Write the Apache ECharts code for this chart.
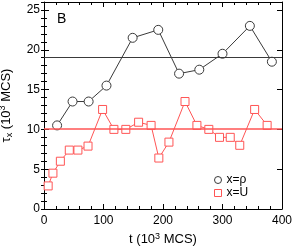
<!DOCTYPE html>
<html>
<head>
<meta charset="utf-8">
<script src="https://cdn.jsdelivr.net/npm/echarts@6/dist/echarts.min.js"></script>
<style>
html,body{margin:0;padding:0;background:#fff;}
#c{width:293px;height:252px;}
</style>
</head>
<body>
<div id="c"></div>
<script>
// x = rho series (black circles)
const tRho = [22, 48, 75, 105, 149, 192, 227, 261, 300, 346, 383];
const tauRho = [10.5, 13.5, 13.5, 15.5, 21.5, 22.5, 17.0, 17.5, 19.5, 23.0, 18.5];
// x = U series (red squares)
const tU = [7, 15, 27.5, 42.5, 57, 74, 98.5, 117.5, 137.5, 159, 180, 193, 210, 237, 257, 277, 295, 313, 329, 354, 375];
const tauU = [2.9, 4.5, 6.0, 7.4, 7.4, 7.9, 12.5, 10.0, 10.0, 10.9, 10.5, 6.4, 8.4, 13.5, 10.5, 10.0, 9.0, 9.0, 8.0, 12.5, 10.5];
// horizontal reference levels
const meanRho = 19.05;
const meanU = 10.1;
const seriesNames = ['x=ρ', 'x=U'];
const panelLabel = 'B';

const BLACK = '#3a3a3a';
const RED = '#ff5555';
const FONT = 'Liberation Sans, Arial, sans-serif';

const chart = echarts.init(document.getElementById('c'), null, {renderer: 'canvas'});

const baseX = {
  type: 'value', min: 0, max: 400, interval: 100,
  splitLine: {show: false},
  axisLine: {show: true, onZero: false, lineStyle: {color: '#000', width: 1}},
  axisTick: {show: true, inside: true, length: 5, lineStyle: {color: '#000'}},
  minorTick: {show: true, splitNumber: 5, length: 3, lineStyle: {color: '#000'}},
};
const baseY = {
  type: 'value', min: 0, max: 26, interval: 5,
  splitLine: {show: false},
  axisLine: {show: true, onZero: false, lineStyle: {color: '#000', width: 1}},
  axisTick: {show: true, inside: true, length: 5, lineStyle: {color: '#000'}},
};
const minorY = {
  type: 'value', min: 0, max: 26, interval: 1,
  splitLine: {show: false},
  axisLine: {show: false},
  axisLabel: {show: false},
  axisTick: {show: true, inside: true, length: 3, lineStyle: {color: '#000'}},
};

const option = {
  animation: false,
  backgroundColor: '#fff',
  grid: {left: 44, top: 2, width: 238, height: 207, containLabel: false, outerBoundsMode: 'none'},
  xAxis: [
    Object.assign({}, baseX, {
      position: 'bottom',
      axisLabel: {fontSize: 12, color: '#000', margin: 6, fontFamily: FONT},
      name: '{t|t (10}{p|3}{t| MCS)}',
      nameLocation: 'middle', nameGap: 19,
      nameTextStyle: {
        fontFamily: FONT, color: '#000',
        rich: {
          t: {fontSize: 13, lineHeight: 16, color: '#000', fontFamily: FONT},
          p: {fontSize: 9, lineHeight: 9, verticalAlign: 'top', color: '#000', fontFamily: FONT}
        }
      }
    }),
    Object.assign({}, baseX, {position: 'top', axisLabel: {show: false}})
  ],
  yAxis: [
    Object.assign({}, baseY, {
      position: 'left',
      axisLabel: {fontSize: 12, color: '#000', margin: 4, showMaxLabel: false, fontFamily: FONT},
      name: '{t|τ}{s|x}{t| (10}{p|3}{t| MCS)}',
      nameLocation: 'middle', nameGap: 30, nameRotate: 90,
      nameTextStyle: {
        fontFamily: FONT, color: '#000',
        rich: {
          t: {fontSize: 13, lineHeight: 16, color: '#000', fontFamily: FONT},
          s: {fontSize: 9, lineHeight: 9, verticalAlign: 'bottom', color: '#000', fontFamily: FONT},
          p: {fontSize: 9, lineHeight: 9, verticalAlign: 'top', color: '#000', fontFamily: FONT}
        }
      }
    }),
    Object.assign({}, baseY, {position: 'right', axisLabel: {show: false}}),
    Object.assign({}, minorY, {position: 'left'}),
    Object.assign({}, minorY, {position: 'right'})
  ],
  legend: {
    orient: 'vertical', left: 214, top: 174, padding: 0,
    itemWidth: 7, itemHeight: 7, itemGap: 1,
    textStyle: {fontSize: 12, lineHeight: 12, color: '#000', fontFamily: FONT},
    selectedMode: false,
    lineStyle: {width: 0, opacity: 0},
    data: [
      {name: seriesNames[0], icon: 'circle', itemStyle: {color: '#fff', borderColor: BLACK, borderWidth: 1}},
      {name: seriesNames[1], icon: 'rect', itemStyle: {color: '#fff', borderColor: RED, borderWidth: 1}}
    ]
  },
  graphic: [
    {type: 'text', left: 57, top: 12, style: {text: panelLabel, fontSize: 14, fill: '#000', fontFamily: FONT}}
  ],
  series: [
    {
      name: seriesNames[0], type: 'line', xAxisIndex: 0, yAxisIndex: 0,
      data: tRho.map((t, i) => [t, tauRho[i]]),
      symbol: 'circle', symbolSize: 9,
      itemStyle: {color: '#fff', borderColor: BLACK, borderWidth: 1},
      lineStyle: {color: BLACK, width: 1},
      z: 3,
      markLine: {
        silent: true, symbol: 'none', label: {show: false},
        lineStyle: {color: BLACK, width: 1, type: 'solid'},
        data: [{yAxis: meanRho}]
      }
    },
    {
      name: seriesNames[1], type: 'line', xAxisIndex: 0, yAxisIndex: 0,
      data: tU.map((t, i) => [t, tauU[i]]),
      symbol: 'rect', symbolSize: 8,
      itemStyle: {color: '#fff', borderColor: RED, borderWidth: 1},
      lineStyle: {color: RED, width: 1},
      z: 4,
      markLine: {
        silent: true, symbol: 'none', label: {show: false},
        lineStyle: {color: RED, width: 1.5, type: 'solid'},
        data: [{yAxis: meanU}]
      }
    }
  ]
};
chart.setOption(option);
</script>
</body>
</html>
